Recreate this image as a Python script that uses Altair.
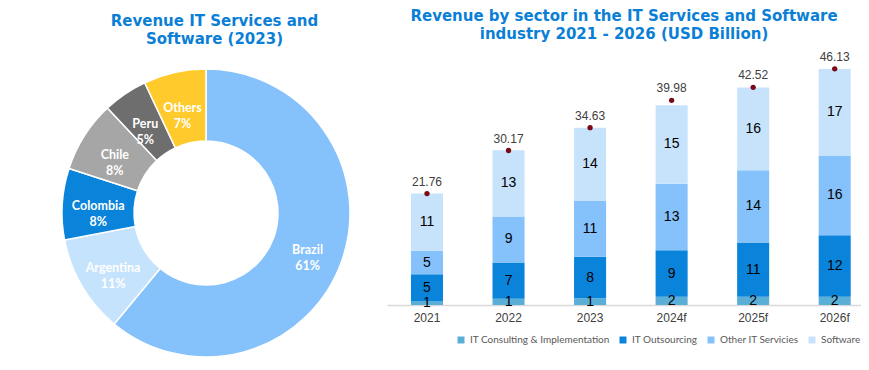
import altair as alt
import pandas as pd

# ---- Donut data ----
countries = ["Brazil", "Argentina", "Colombia", "Chile", "Peru", "Others"]
shares = [61, 11, 8, 8, 5, 7]
country_colors = ["#85C1FA", "#C5E3FC", "#0A84DB", "#A6A6A6", "#6E6E6E", "#FFCA2C"]

# ---- Bar data ----
years = ["2021", "2022", "2023", "2024f", "2025f", "2026f"]
sectors = ["IT Consulting & Implementation", "IT Outsourcing", "Other IT Servicies", "Software"]
sector_colors = ["#5BAFD6", "#0A84DB", "#85C1FA", "#C7E3FC"]
consulting = [0.7, 1.2, 1.3, 1.6, 1.6, 1.6]
outsourcing = [5.3, 7.1, 8.1, 9.1, 10.6, 12.0]
other_it = [4.6, 9.0, 10.9, 13.0, 14.1, 15.6]
software = [11.2, 12.9, 14.3, 15.3, 16.2, 16.9]
totals = [21.76, 30.17, 34.63, 39.98, 42.52, 46.13]

TITLE_BLUE = "#0B7FD6"
H = 249

donut_df = pd.DataFrame({"country": countries, "share": shares, "idx": list(range(len(countries)))})

series = [consulting, outsourcing, other_it, software]
rows = []
for si, (sname, vals) in enumerate(zip(sectors, series)):
    for y, v in zip(years, vals):
        rows.append({"year": y, "sector": sname, "value": v, "idx": si})
bar_df = pd.DataFrame(rows)
tot_df = pd.DataFrame({"year": years, "total": totals})

# ---- Donut ----
cx, cy = 198, 157
base = alt.Chart(donut_df).encode(
    theta=alt.Theta("share:Q", stack=True),
    order=alt.Order("idx:Q", sort="ascending"),
)
arcs = base.mark_arc(innerRadius=72, outerRadius=144, stroke="white", strokeWidth=1.5).encode(
    x=alt.value(cx), y=alt.value(cy),
    color=alt.Color("country:N", scale=alt.Scale(domain=countries, range=country_colors), legend=None),
)
labels = base.transform_calculate(
    lab="datum.country + '\\n' + datum.share + '%'"
).mark_text(
    radius=108, lineBreak="\n", font="Lato", fontWeight="bold", fontSize=12.5,
    color="white", lineHeight=16, align="center", baseline="middle",
).encode(x=alt.value(cx), y=alt.value(cy), text="lab:N")

donut = alt.layer(arcs, labels).properties(
    width=379, height=H,
    title=alt.TitleParams(
        text=["Revenue IT Services and", "Software (2023)"],
        font="DejaVu Sans", fontSize=15, fontWeight="bold", color=TITLE_BLUE,
        anchor="middle", dx=17, lineHeight=18, offset=9,
    ),
)

# ---- Bars ----
yscale = alt.Scale(domain=[0, 48.63], nice=False, zero=True)
xenc = alt.X(
    "year:N", sort=years,
    scale=alt.Scale(paddingInner=0.607, paddingOuter=0.21, align=0.7),
    axis=alt.Axis(title=None, labelAngle=0, ticks=False, domainColor="#D9D9D9", domainWidth=1.5,
                  labelFont="Liberation Sans", labelFontSize=12, labelColor="#404040", labelPadding=7),
)

bars = alt.Chart(bar_df).mark_bar().encode(
    x=xenc,
    y=alt.Y("value:Q", stack="zero", scale=yscale, axis=None),
    color=alt.Color("sector:N", scale=alt.Scale(domain=sectors, range=sector_colors),
                    legend=alt.Legend(title=None, orient="none", direction="horizontal",
                                      legendX=69, legendY=279, symbolType="square", symbolSize=49,
                                      symbolStrokeWidth=0, labelFont="Lato", labelFontSize=10,
                                      labelColor="#595959", columnPadding=8, labelOffset=4)),
    order=alt.Order("idx:Q", sort="ascending"),
)

seg_text = alt.Chart(bar_df).transform_stack(
    stack="value", as_=["y0", "y1"], groupby=["year"], sort=[alt.SortField("idx", order="ascending")]
).transform_calculate(
    mid="(datum.y0 + datum.y1) / 2"
).mark_text(font="Liberation Sans", fontSize=14, color="black", baseline="middle").encode(
    x=alt.X("year:N", sort=years),
    y=alt.Y("mid:Q", scale=yscale),
    text=alt.Text("value:Q", format=".0f"),
)

dots = alt.Chart(tot_df).mark_point(filled=True, size=28, color="#7A0A16", opacity=1).encode(
    x=alt.X("year:N", sort=years),
    y=alt.Y("total:Q", scale=yscale),
)
tot_text = alt.Chart(tot_df).mark_text(font="Liberation Sans", fontSize=12, color="#404040", dy=-12).encode(
    x=alt.X("year:N", sort=years),
    y=alt.Y("total:Q", scale=yscale),
    text=alt.Text("total:Q", format=".2f"),
)

barchart = alt.layer(bars, seg_text, dots, tot_text).properties(
    width=474, height=H,
    title=alt.TitleParams(
        text=["Revenue by sector in the IT Services and Software", "industry 2021 - 2026 (USD Billion)"],
        font="DejaVu Sans", fontSize=15, fontWeight="bold", color=TITLE_BLUE,
        anchor="middle", lineHeight=18, offset=9,
    ),
)

chart = alt.hconcat(donut, barchart, spacing=0).resolve_scale(
    color="independent"
).properties(
    padding={"left": 0, "top": 0, "right": 0, "bottom": 0},
    background="white",
).configure_view(strokeWidth=0, stroke="transparent")

chart.save("out.html", embed_options={"renderer": "svg", "actions": False})
